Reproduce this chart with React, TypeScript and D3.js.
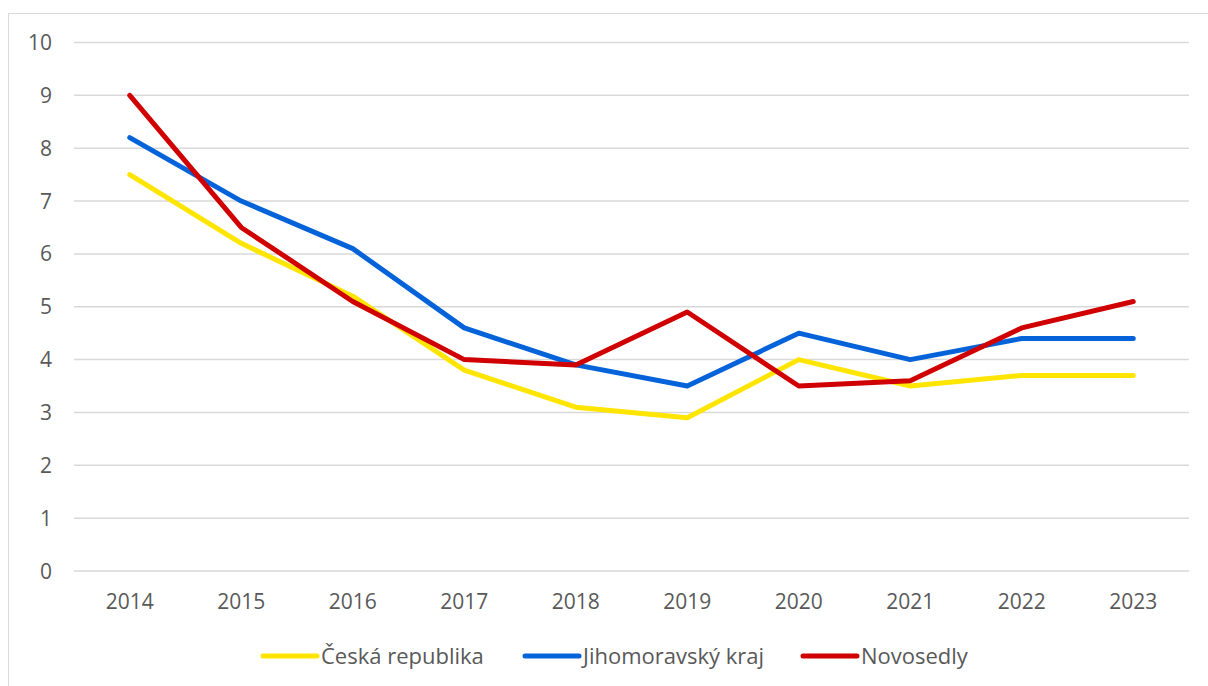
import React from "react";
import * as d3 from "d3";

const years = ["2014", "2015", "2016", "2017", "2018", "2019", "2020", "2021", "2022", "2023"];
const ceskaRepublika = [7.5, 6.2, 5.2, 3.8, 3.1, 2.9, 4.0, 3.5, 3.7, 3.7];
const jihomoravsky = [8.2, 7.0, 6.1, 4.6, 3.9, 3.5, 4.5, 4.0, 4.4, 4.4];
const novosedly = [9.0, 6.5, 5.1, 4.0, 3.9, 4.9, 3.5, 3.6, 4.6, 5.1];
const yTicks = [0, 1, 2, 3, 4, 5, 6, 7, 8, 9, 10];

const series = [
  { name: "Česká republika", values: ceskaRepublika, color: "#FFE500" },
  { name: "Jihomoravský kraj", values: jihomoravsky, color: "#0563D9" },
  { name: "Novosedly", values: novosedly, color: "#D00000" },
];

export default function App() {
  const W = 1208, H = 686;
  const left = 74, right = 1189, top = 42.5, bottom = 571;
  const x = d3.scaleBand().domain(years).range([left, right]);
  const y = d3.scaleLinear().domain([0, 10]).range([bottom, top]);
  const line = d3
    .line<number>()
    .x((_, i) => (x(years[i]) as number) + x.bandwidth() / 2)
    .y((d) => y(d));
  const font = "'Open Sans', 'Liberation Sans', sans-serif";
  const legendX = [263, 525, 803];
  return (
    <svg
      width={W}
      height={H}
      style={{ position: "absolute", left: 0, top: 0, background: "#fff" }}
      fontFamily={font}
    >
      <rect x={8.5} y={13.5} width={1300} height={800} fill="#fff" stroke="#D9D9D9" strokeWidth={1} />
      {yTicks.map((t) => (
        <g key={t}>
          <line x1={left} x2={right} y1={y(t)} y2={y(t)} stroke="#D9D9D9" strokeWidth={1.5} />
          <text x={52} y={y(t)} dy="0.36em" textAnchor="end" fontSize={21} fill="#595959">
            {t}
          </text>
        </g>
      ))}
      {years.map((yr) => (
        <text
          key={yr}
          x={(x(yr) as number) + x.bandwidth() / 2}
          y={601.5}
          dy="0.36em"
          textAnchor="middle"
          fontSize={21}
          fill="#595959"
        >
          {yr}
        </text>
      ))}
      {series.map((s) => (
        <path
          key={s.name}
          d={line(s.values) || ""}
          fill="none"
          stroke={s.color}
          strokeWidth={5}
          strokeLinejoin="round"
          strokeLinecap="round"
        />
      ))}
      {series.map((s, i) => (
        <g key={s.name}>
          <line
            x1={legendX[i]}
            x2={legendX[i] + 54}
            y1={656}
            y2={656}
            stroke={s.color}
            strokeWidth={5}
            strokeLinecap="round"
          />
          <text x={legendX[i] + 58} y={656} dy="0.36em" fontSize={22} fill="#595959">
            {s.name}
          </text>
        </g>
      ))}
    </svg>
  );
}
